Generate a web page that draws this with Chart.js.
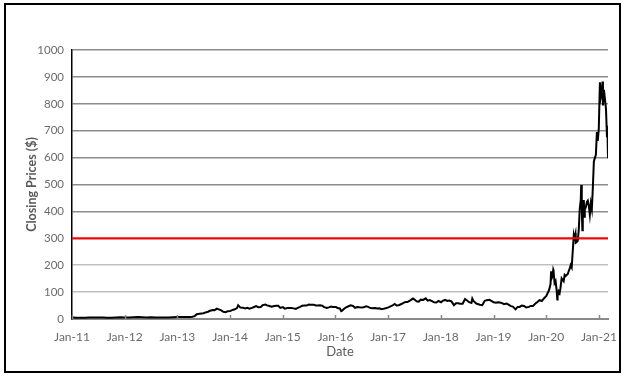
<!DOCTYPE html>
<html>
<head>
<meta charset="utf-8">
<script src="https://cdn.jsdelivr.net/npm/chart.js@4.4.0/dist/chart.umd.min.js"></script>
<style>
  html, body { margin: 0; padding: 0; background: #fff; }
  #wrap { position: relative; width: 631px; height: 379px; }
  #frame { position: absolute; left: 4px; top: 3px; width: 617px; height: 370px;
           border: 2px solid #000; box-sizing: border-box; pointer-events: none; }
  canvas { position: absolute; left: 0; top: 0; }
</style>
</head>
<body>
<div id="wrap">
  <canvas id="priceChart" width="631" height="379"></canvas>
  <div id="frame"></div>
</div>
<script>
// closing prices (split adjusted)
const dates = [
  '2011-01-03','2011-02-01','2011-03-01','2011-04-01','2011-05-02','2011-06-01','2011-07-01','2011-08-01','2011-09-01','2011-10-03','2011-11-01','2011-12-01',
  '2012-01-03','2012-02-01','2012-03-01','2012-04-02','2012-05-01','2012-06-01','2012-07-02','2012-08-01','2012-09-04','2012-10-01','2012-11-01','2012-12-03',
  '2013-01-02','2013-02-01','2013-03-01','2013-04-01','2013-04-15','2013-05-01','2013-05-15','2013-06-03','2013-06-17','2013-07-01','2013-07-15','2013-08-01',
  '2013-08-15','2013-09-03','2013-09-16','2013-10-01','2013-10-15','2013-11-01','2013-11-15','2013-12-02','2013-12-16',
  '2014-01-02','2014-01-15','2014-02-03','2014-02-18','2014-02-26','2014-03-14','2014-04-01','2014-04-15','2014-05-01','2014-05-15','2014-06-02','2014-06-16',
  '2014-07-01','2014-07-15','2014-08-01','2014-08-15','2014-09-02','2014-09-15','2014-10-01','2014-10-15','2014-11-03','2014-11-17','2014-12-01','2014-12-15',
  '2015-01-02','2015-01-15','2015-02-02','2015-02-17','2015-03-02','2015-03-16','2015-04-01','2015-04-15','2015-05-01','2015-05-15','2015-06-01','2015-06-15',
  '2015-07-01','2015-07-15','2015-08-03','2015-08-17','2015-09-01','2015-09-15','2015-10-01','2015-10-15','2015-11-02','2015-11-16','2015-12-01','2015-12-15',
  '2016-01-04','2016-01-15','2016-02-01','2016-02-10','2016-02-16','2016-03-01','2016-03-15','2016-04-01','2016-04-15','2016-05-02','2016-05-16','2016-06-01',
  '2016-06-15','2016-07-01','2016-07-15','2016-08-01','2016-08-15','2016-09-01','2016-09-15','2016-10-03','2016-10-17','2016-11-01','2016-11-15','2016-12-01','2016-12-15',
  '2017-01-03','2017-01-17','2017-02-01','2017-02-15','2017-03-01','2017-03-15','2017-04-03','2017-04-17','2017-05-01','2017-05-15','2017-06-01','2017-06-22',
  '2017-07-03','2017-07-17','2017-08-01','2017-08-15','2017-09-01','2017-09-18','2017-10-02','2017-10-16','2017-11-01','2017-11-15','2017-12-01','2017-12-15',
  '2018-01-02','2018-01-16','2018-02-01','2018-02-15','2018-03-01','2018-03-15','2018-04-02','2018-04-16','2018-05-01','2018-05-15','2018-06-01','2018-06-18',
  '2018-07-02','2018-07-16','2018-08-01','2018-08-07','2018-08-15','2018-09-04','2018-09-28','2018-10-15','2018-11-01','2018-11-15','2018-12-03','2018-12-17',
  '2019-01-02','2019-01-18','2019-02-01','2019-02-15','2019-03-01','2019-03-15','2019-04-01','2019-04-15','2019-05-01','2019-05-15','2019-06-03','2019-06-17',
  '2019-07-01','2019-07-15','2019-08-01','2019-08-15','2019-09-03','2019-09-16','2019-10-01','2019-10-24','2019-11-01','2019-11-15','2019-12-02','2019-12-16',
  '2020-01-02','2020-01-10','2020-01-17','2020-01-24','2020-01-31','2020-02-04','2020-02-05','2020-02-07','2020-02-14','2020-02-19','2020-02-21','2020-02-28',
  '2020-03-06','2020-03-13','2020-03-18','2020-03-20','2020-03-27','2020-04-03','2020-04-09','2020-04-17','2020-04-24','2020-05-01','2020-05-08','2020-05-15',
  '2020-05-22','2020-05-29','2020-06-05','2020-06-12','2020-06-19','2020-06-26','2020-07-02','2020-07-10','2020-07-13','2020-07-17','2020-07-22','2020-07-24',
  '2020-07-31','2020-08-07','2020-08-14','2020-08-21','2020-08-28','2020-08-31','2020-09-04','2020-09-08','2020-09-11','2020-09-18','2020-09-23','2020-09-25',
  '2020-10-02','2020-10-09','2020-10-16','2020-10-23','2020-10-30','2020-11-06','2020-11-13','2020-11-20','2020-11-27','2020-12-04','2020-12-11','2020-12-18',
  '2020-12-24','2020-12-31','2021-01-08','2021-01-15','2021-01-22','2021-01-26','2021-01-29','2021-02-05','2021-02-12','2021-02-19','2021-02-26','2021-03-01',
  '2021-03-04','2021-03-05'
];
const closes = [
  5.3, 4.8, 4.7, 5.0, 5.4, 6.0, 5.8, 5.5, 4.8, 4.9, 5.8, 6.5,
  5.7, 5.8, 6.7, 7.4, 6.6, 5.9, 6.3, 5.4, 5.7, 5.9, 5.6, 6.8,
  7.1, 7.5, 7.0, 7.6, 8.6, 10.8, 17.5, 19.5, 20.5, 21.5, 24.5, 26.9,
  30.5, 33.6, 33.0, 38.7, 35.5, 31.8, 27.0, 25.4, 29.0,
  30.1, 33.0, 36.2, 40.5, 50.8, 42.4, 41.7, 39.5, 41.6, 38.5, 41.3, 44.5,
  48.0, 44.0, 44.7, 51.5, 53.9, 50.5, 48.5, 45.5, 48.1, 49.2, 48.9, 41.0,
  44.0, 38.5, 40.6, 40.6, 40.6, 39.5, 37.8, 41.5, 45.3, 49.2, 50.2, 50.0,
  53.7, 53.4, 53.3, 50.5, 49.9, 50.7, 49.7, 44.0, 41.2, 43.3, 46.1, 44.3,
  44.7, 41.0, 39.2, 29.6, 31.2, 38.3, 43.4, 47.5, 50.8, 48.3, 41.6, 44.7,
  43.4, 42.5, 44.0, 46.9, 45.0, 40.5, 40.0, 40.8, 38.8, 39.5, 36.5, 37.9, 40.0,
  43.0, 47.0, 50.4, 56.0, 50.0, 51.0, 55.7, 60.0, 62.8, 63.5, 68.2, 76.0,
  72.3, 65.5, 64.7, 72.0, 71.1, 77.0, 68.2, 70.5, 66.2, 62.0, 61.6, 67.5,
  62.3, 68.3, 70.9, 67.0, 68.6, 65.5, 51.5, 58.5, 58.7, 56.5, 56.8, 74.0,
  68.6, 62.5, 59.6, 76.0, 67.0, 57.5, 53.2, 51.5, 67.5, 70.0, 71.3, 67.0,
  62.0, 60.5, 62.5, 61.5, 58.9, 55.0, 57.5, 53.5, 47.7, 46.0, 35.8, 45.0,
  45.0, 50.0, 48.5, 43.0, 45.0, 48.5, 48.2, 59.9, 63.0, 69.9, 67.0, 76.3,
  86.1, 95.6, 102.1, 113.9, 130.1, 177.4, 146.9, 149.0, 160.0, 183.5, 180.0, 133.6,
  140.7, 109.3, 72.2, 85.5, 102.9, 96.0, 114.6, 150.8, 145.0, 140.3, 163.9, 159.8,
  163.4, 167.0, 177.6, 187.1, 200.2, 191.9, 241.7, 308.9, 299.4, 299.4, 318.5, 283.4,
  286.2, 290.5, 330.1, 409.1, 442.7, 498.3, 418.3, 330.2, 372.7, 442.2, 380.4, 407.3,
  415.1, 434.0, 439.7, 420.6, 388.0, 430.0, 408.5, 489.6, 585.8, 599.0, 610.0, 695.0,
  661.8, 705.7, 880.0, 826.2, 846.6, 883.1, 793.5, 852.2, 816.1, 781.3, 675.5, 718.4,
  621.4, 598.0
];
const threshold = 300;
const yearTicks = [2011, 2012, 2013, 2014, 2015, 2016, 2017, 2018, 2019, 2020, 2021];
const yearLabels = ['Jan-11', 'Jan-12', 'Jan-13', 'Jan-14', 'Jan-15', 'Jan-16', 'Jan-17', 'Jan-18', 'Jan-19', 'Jan-20', 'Jan-21'];

// date string -> fractional year for the linear x scale
function toYear(s) {
  const d = Date.parse(s + 'T00:00:00Z');
  const y = parseInt(s.slice(0, 4));
  const a = Date.UTC(y, 0, 1), b = Date.UTC(y + 1, 0, 1);
  return y + (d - a) / (b - a);
}

const xMin = yearTicks[0];
const xMax = toYear(dates[dates.length - 1]);
const pricePoints = dates.map((d, i) => ({ x: toYear(d), y: closes[i] }));

const labelGrey = '#6b6b6b';
const fontFam = 'Lato, "Open Sans", sans-serif';

// short tick marks pointing up from the date axis
const upTicks = {
  id: 'upTicks',
  afterDatasetsDraw(chart) {
    const xs = chart.scales.x, c = chart.ctx;
    c.save();
    c.strokeStyle = '#8a8a8a';
    c.lineWidth = 1.5;
    yearTicks.forEach(v => {
      const px = Math.round(xs.getPixelForValue(v)) + 0.5;
      c.beginPath();
      c.moveTo(px, xs.top - 4);
      c.lineTo(px, xs.top);
      c.stroke();
    });
    c.restore();
  }
};

new Chart(document.getElementById('priceChart'), {
  type: 'line',
  data: {
    datasets: [
      {
        data: [{ x: xMin, y: threshold }, { x: xMax, y: threshold }],
        borderColor: '#ff0000',
        borderWidth: 2,
        pointRadius: 0,
        order: 0
      },
      {
        data: pricePoints,
        borderColor: '#000000',
        borderWidth: 2,
        pointRadius: 0,
        tension: 0,
        order: 1
      }
    ]
  },
  options: {
    responsive: false,
    animation: false,
    events: [],
    layout: { padding: { left: 20, right: 23, top: 50, bottom: 10 } },
    plugins: { legend: { display: false }, tooltip: { enabled: false } },
    scales: {
      x: {
        type: 'linear',
        min: xMin,
        max: xMax,
        afterBuildTicks: s => { s.ticks = yearTicks.map(v => ({ value: v })); },
        afterFit: s => { s.height = 50; },
        ticks: {
          autoSkip: false,
          maxRotation: 0,
          padding: 3,
          color: labelGrey,
          font: { family: fontFam, size: 12 },
          callback: v => yearLabels[yearTicks.indexOf(v)]
        },
        grid: { display: false },
        border: { display: true, color: '#8a8a8a', width: 2 },
        title: {
          display: true,
          text: 'Date',
          color: '#595959',
          padding: 9,
          font: { family: fontFam, size: 13 }
        }
      },
      y: {
        min: 0,
        max: 1000,
        afterFit: s => { s.width = 52; },
        ticks: {
          stepSize: 100,
          padding: 8,
          color: labelGrey,
          font: { family: fontFam, size: 11.5 },
          callback: v => String(v)
        },
        grid: {
          drawTicks: false,
          lineWidth: 1.5,
          color: c => c.tick.value === 0 ? 'rgba(0,0,0,0)' : (c.tick.value <= 200 ? '#c0c0c0' : '#8c8c8c')
        },
        border: { display: true, color: '#000000', width: 1.5 },
        title: {
          display: true,
          text: 'Closing Prices ($)',
          color: '#595959',
          padding: 4,
          font: { family: fontFam, size: 12.5, weight: 'bold' }
        }
      }
    }
  },
  plugins: [upTicks]
});
</script>
</body>
</html>
